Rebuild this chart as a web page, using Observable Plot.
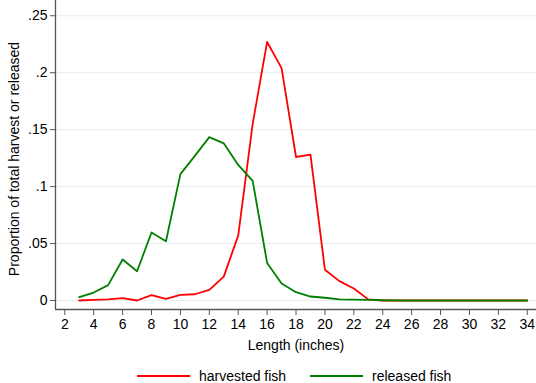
<!DOCTYPE html>
<html>
<head>
<meta charset="utf-8">
<script src="https://cdn.jsdelivr.net/npm/d3@7"></script>
<script src="https://cdn.jsdelivr.net/npm/@observablehq/plot@0.6"></script>
<style>
  html, body { margin: 0; padding: 0; background: #fff; }
  body { width: 536px; height: 383px; position: relative; overflow: hidden;
         font-family: "Liberation Sans", Arial, sans-serif; }
  #legend { position: absolute; left: 0; top: 366px; width: 536px; height: 20px; font-size: 14px; color: #000; }
  #legend .item { position: absolute; top: 0; display: flex; align-items: center; height: 20px; }
  #legend svg { display: block; margin-right: 9px; }
</style>
</head>
<body>
<div id="chart"></div>
<div id="legend"></div>
<script>
// Length classes (inches)
const lengths = [3,4,5,6,7,8,9,10,11,12,13,14,15,16,17,18,19,20,21,22,23,24,25,26,27,28,29,30,31,32,33,34];
// Share of total harvest per length class
const harvested = [0.000,0.0005,0.001,0.002,0.000,0.0047,0.0015,0.005,0.0055,0.0094,0.021,0.057,0.155,0.227,0.204,0.126,0.128,0.027,0.017,0.0105,0.001,0,0,0,0,0,0,0,0,0,0,0];
// Share of total released fish per length class
const released = [0.003,0.007,0.0135,0.036,0.0257,0.0597,0.052,0.111,0.127,0.1434,0.138,0.119,0.105,0.033,0.015,0.0073,0.0035,0.0024,0.001,0.0008,0.0005,0.0002,0,0,0,0,0,0,0,0,0,0];
const seriesNames = ["harvested fish", "released fish"];
const seriesColors = ["#ff0000", "#008000"];
const xTicks = d3.range(2, 35, 2);
const yTicks = [0, 0.05, 0.1, 0.15, 0.2, 0.25];

const rows = [];
lengths.forEach((len, i) => {
  rows.push({length: len, value: harvested[i], series: seriesNames[0]});
});
lengths.forEach((len, i) => {
  rows.push({length: len, value: released[i], series: seriesNames[1]});
});

const xDomain = [1.357, 34.64];
const yDomain = [-0.0079, 0.2634];
const axisColor = "#555";
const fmt = d => d === 0 ? "0" : String(d).replace(/^0/, "");

const chart = Plot.plot({
  width: 536,
  height: 362,
  marginLeft: 55,
  marginRight: 0,
  marginTop: 0,
  marginBottom: 53,
  style: {fontFamily: "'Liberation Sans', Arial, sans-serif", fontSize: "14px", color: "#000", background: "#fff"},
  x: {domain: xDomain},
  y: {domain: yDomain},
  color: {domain: seriesNames, range: seriesColors},
  marks: [
    Plot.gridY(yTicks, {stroke: "#e4eef0", strokeOpacity: 1, strokeWidth: 1}),
    Plot.axisX(xTicks, {tickSize: 6, tickPadding: 4, stroke: axisColor, label: "Length (inches)",
      labelAnchor: "center", labelArrow: "none", labelOffset: 40, fontSize: 14}),
    Plot.axisY(yTicks, {tickSize: 5, tickPadding: 3, stroke: axisColor, tickFormat: fmt,
      label: "Proportion of total harvest or released", labelAnchor: "center", labelArrow: "none", labelOffset: 46, fontSize: 14}),
    Plot.ruleX([xDomain[0]], {stroke: axisColor, strokeWidth: 1.3}),
    Plot.ruleY([yDomain[0]], {stroke: axisColor, strokeWidth: 1.3}),
    Plot.line(rows, {x: "length", y: "value", stroke: "series", z: "series", strokeWidth: 1.8})
  ]
});
// nudge the vertical axis title a little lower
chart.querySelectorAll("g[aria-label='y-axis label'] text").forEach(t => t.setAttribute("dx", "-4"));
document.getElementById("chart").appendChild(chart);

// legend
const legend = document.getElementById("legend");
const legendLeft = [137, 310];
seriesNames.forEach((name, i) => {
  const item = document.createElement("div");
  item.className = "item";
  item.style.left = legendLeft[i] + "px";
  item.innerHTML = `<svg width="53" height="4"><line x1="0" x2="53" y1="2" y2="2" stroke="${seriesColors[i]}" stroke-width="1.8"/></svg><span>${name}</span>`;
  legend.appendChild(item);
});
</script>
</body>
</html>
